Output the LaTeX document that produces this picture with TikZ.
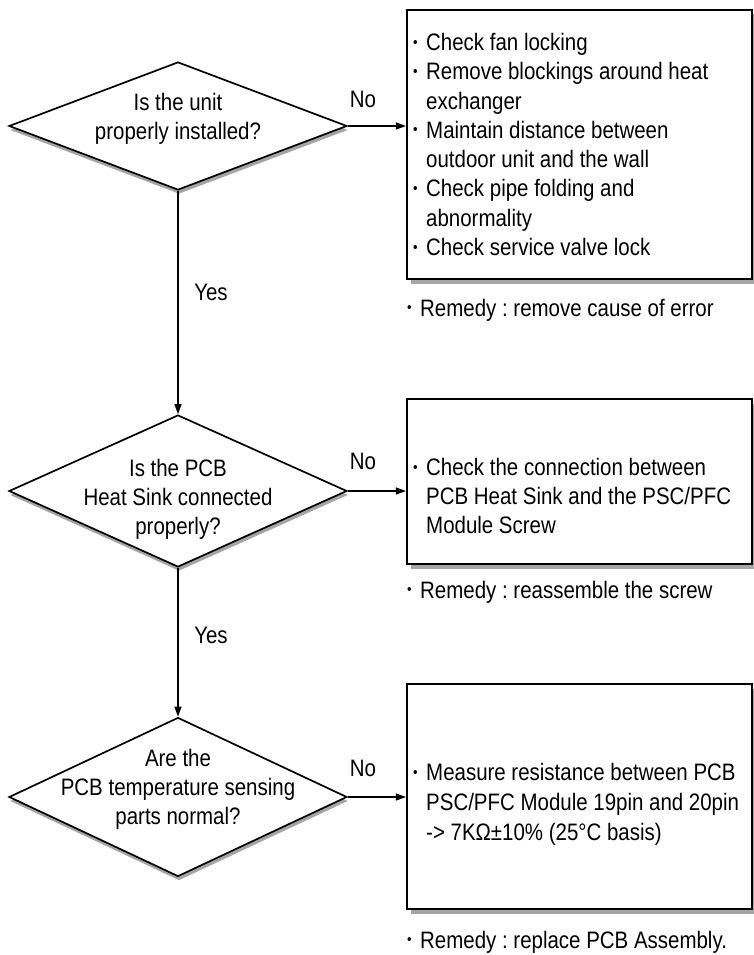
\documentclass[tikz,border=0pt]{standalone}
\usepackage{fontspec}
\setmainfont{Liberation Sans}[FakeStretch=0.86]
\usetikzlibrary{shapes.geometric,arrows.meta,shadows}
\definecolor{shadowGray}{RGB}{165,165,165}
\newcommand{\bul}{\makebox[13pt][l]{\raisebox{3.4pt}{\fontsize{15}{15}\selectfont\textbullet}}}
\newcommand{\ind}{\hspace*{13pt}}
\frenchspacing

\begin{document}
\begin{tikzpicture}[x=1pt,y=-1pt,
    every node/.style={font=\fontsize{23.8}{28.8}\selectfont},
    decision/.style={diamond,draw,line width=1.7pt,fill=white,minimum width=338pt,minimum height=#1,inner sep=0pt,
      drop shadow={shadow xshift=1pt,shadow yshift=-4pt,fill=shadowGray,opacity=1}},
    actbox/.style={rectangle,draw,line width=2.2pt,fill=white,minimum width=345pt,minimum height=#1,inner sep=0pt,
      drop shadow={shadow xshift=4pt,shadow yshift=-4.5pt,fill=shadowGray,opacity=1}},
    txt/.style={align=left,inner sep=0pt,anchor=north west},
    flow/.style={-{Triangle[length=10pt,width=7pt]},line width=1.1pt}]
  \useasboundingbox (0,0) rectangle (754,955);
  % decisions and actions
  \node[decision=128pt] (d1) at (178,126) {};
  \node[decision=152pt] (d2) at (178,491) {};
  \node[decision=159pt] (d3) at (178,797) {};
  \node[actbox=269pt] (b1) at (579.5,144.5) {};
  \node[actbox=165pt] (b2) at (579.5,481.5) {};
  \node[actbox=225pt] (b3) at (579.5,796.5) {};
  \node[align=center,inner sep=0pt,anchor=north] (q1) at (178,93) {Is the unit\\properly installed?};
  \node[align=center,inner sep=0pt,anchor=north] (q2) at (178,459) {Is the PCB\\Heat Sink connected\\properly?};
  \node[align=center,inner sep=0pt,anchor=north] (q3) at (178,749) {Are the\\PCB temperature sensing\\parts normal?};
  \node[txt,font=\fontsize{23.8}{29.3}\selectfont] (t1) at (413,33) {\bul Check fan locking\\\bul Remove blockings around heat\\\ind exchanger\\\bul Maintain distance between\\\ind outdoor unit and the wall\\\bul Check pipe folding and\\\ind abnormality\\\bul Check service valve lock};
  \node[txt] (t2) at (413,458) {\bul Check the connection between\\\ind PCB Heat Sink and the PSC/PFC\\\ind Module Screw};
  \node[txt,font=\fontsize{23.8}{30}\selectfont] (t3) at (413,763) {\bul Measure resistance between PCB\\\ind PSC/PFC Module 19pin and 20pin\\\ind -> 7KΩ±10\% (25°C basis)};
  \node[anchor=base west,inner sep=0pt] (r1) at (407,316) {\bul Remedy : remove cause of error};
  \node[anchor=base west,inner sep=0pt] (r2) at (407,598) {\bul Remedy : reassemble the screw};
  \node[anchor=base west,inner sep=0pt] (r3) at (407,948) {\bul Remedy : replace PCB Assembly.};
  % connectors
  \draw[flow] (d1.east) -- (d1.east -| b1.west);
  \draw[flow] (d2.east) -- (d2.east -| b2.west);
  \draw[flow] (d3.east) -- (d3.east -| b3.west);
  \draw[flow] (d1.south) -- (d2.north);
  \draw[flow] (d2.south) -- (d3.north);
  \node[anchor=base,inner sep=0pt] (n1) at (363,108) {No};
  \node[anchor=base,inner sep=0pt] (n2) at (363,469) {No};
  \node[anchor=base,inner sep=0pt] (n3) at (363,776) {No};
  \node[anchor=base,inner sep=0pt] (y1) at (211,300) {Yes};
  \node[anchor=base,inner sep=0pt] (y2) at (211,643) {Yes};
\end{tikzpicture}
\end{document}
